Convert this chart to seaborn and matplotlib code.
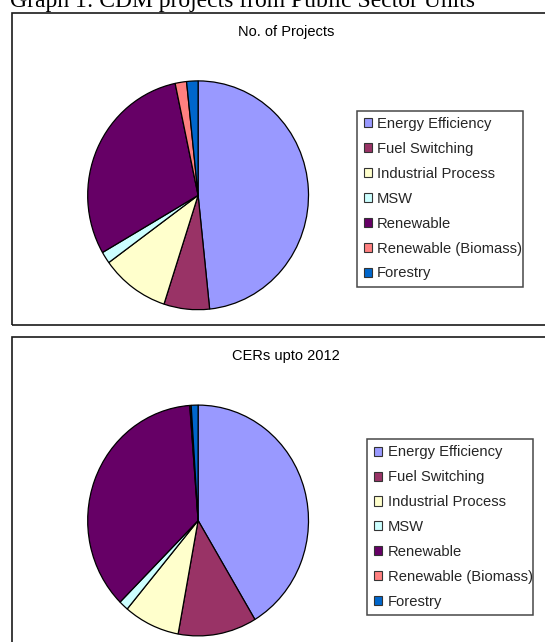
import matplotlib
matplotlib.use("Agg")
import matplotlib.pyplot as plt
from matplotlib.patches import Rectangle
import seaborn as sns

categories = ["Energy Efficiency", "Fuel Switching", "Industrial Process", "MSW",
              "Renewable", "Renewable (Biomass)", "Forestry"]
projects = [29, 4, 6, 1, 18, 1, 1]
cers = [41.4, 11.5, 8.2, 1.4, 36.3, 0.2, 1.0]
colors_hex = ["#9999FF", "#993366", "#FFFFCC", "#CCFFFF", "#660066", "#FF8080", "#0066CC"]
titles = ["No. of Projects", "CERs upto 2012"]
header = "Graph 1: CDM projects from Public Sector Units"

sns.set_style("white")
plt.rcParams['font.family'] = ['Liberation Sans', 'DejaVu Sans']
palette = sns.color_palette(colors_hex)

W, H = 545, 642
fig = plt.figure(figsize=(W / 100, H / 100), dpi=100)
fig.patch.set_facecolor("white")

def fx(px):
    return px / W

def fy(py):
    return 1 - py / H

# header (partially cut at the top, as in the reference)
fig.text(fx(10), fy(6.5), header, family=['Liberation Serif'], fontsize=17,
         ha='left', va='baseline', color='black')

panels = [
    dict(box=(12.3, 12.5, 570, 324.7), title=(285.7, 32.3), cx=198.1, cy=195.3,
         rx=110.4, ry=114.4, legend=(357, 110.5, 523, 285.7)),
    dict(box=(12.3, 337.3, 570, 680), title=(285.7, 356), cx=198.1, cy=520.5,
         rx=110.4, ry=115.4, legend=(367.4, 438.8, 532.8, 614.3)),
]

for i, (vals, p) in enumerate(zip([projects, cers], panels)):
    x0, y0, x1, y1 = p['box']
    fig.patches.append(Rectangle((fx(x0), fy(y1)), fx(x1) - fx(x0), fy(y0) - fy(y1),
                                 transform=fig.transFigure, fill=False,
                                 edgecolor='#1a1a1a', linewidth=1.2, clip_on=False))
    tx, ty = p['title']
    fig.text(fx(tx), fy(ty), titles[i], ha='center', va='center',
             fontsize=10.5, color='black')
    rx, ry = p['rx'], p['ry']
    m = 1.05
    ax = fig.add_axes([fx(p['cx'] - rx * m), fy(p['cy'] + ry * m),
                       2 * rx * m / W, 2 * ry * m / H])
    wedges, _ = ax.pie(vals, colors=palette, startangle=90, counterclock=False,
                       wedgeprops=dict(edgecolor='black', linewidth=0.9))
    ax.set_aspect('auto')
    ax.set_xlim(-m, m)
    ax.set_ylim(-m, m)
    ax.axis('off')

    lx0, ly0, lx1, ly1 = p['legend']
    leg = fig.legend(wedges, categories, loc='upper left',
                     bbox_to_anchor=(fx(lx0), fy(ly1), fx(lx1) - fx(lx0), fy(ly0) - fy(ly1)),
                     mode='expand', fontsize=10.6, frameon=True, fancybox=False,
                     edgecolor='#1a1a1a', handlelength=0.57, handleheight=0.57,
                     handletextpad=0.35, labelspacing=0.74, borderpad=0.45,
                     borderaxespad=0.0)
    leg.get_frame().set_linewidth(1.1)
    for h in leg.legend_handles:
        h.set_linewidth(0.8)
        h.set_edgecolor('#333333')

fig.savefig("out.png", dpi=100, facecolor='white')
